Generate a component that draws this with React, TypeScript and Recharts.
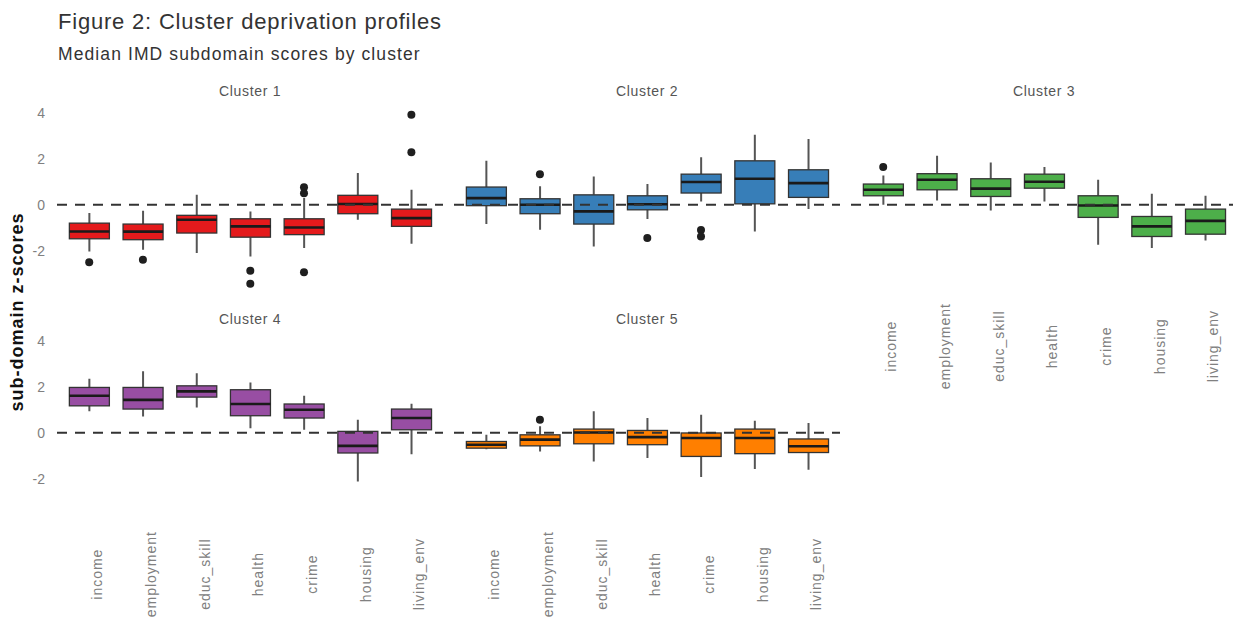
import React from "react";
import { ComposedChart, Bar, Scatter, XAxis, YAxis, ReferenceLine } from "recharts";

// ---------- data ----------
const CATEGORIES = ["income", "employment", "educ_skill", "health", "crime", "housing", "living_env"];
const CLUSTER_NAMES = ["Cluster 1", "Cluster 2", "Cluster 3", "Cluster 4", "Cluster 5"];
const CLUSTER_COLORS = ["#E41A1C", "#377EB8", "#4DAF4A", "#984EA3", "#FF7F00"];
const Y_TICKS = [-2, 0, 2, 4];
const Y_DOMAIN: [number, number] = [-3.8, 4.25];

// Cluster 1
const c1Low = [-2.03, -1.96, -2.1, -2.25, -1.88, -0.65, -1.7];
const c1Q1 = [-1.48, -1.52, -1.23, -1.41, -1.3, -0.39, -0.94];
const c1Median = [-1.16, -1.17, -0.65, -0.94, -0.99, 0.03, -0.58];
const c1Q3 = [-0.8, -0.84, -0.46, -0.61, -0.61, 0.41, -0.19];
const c1High = [-0.36, -0.26, 0.43, -0.29, 0.29, 1.38, 0.65];
const c1Outliers = [[-2.5], [-2.39], [], [-2.87, -3.43], [0.76, 0.5, -2.94], [], [3.91, 2.28]];

// Cluster 2
const c2Low = [-0.84, -1.09, -1.81, -0.62, 0.14, -1.16, -0.19];
const c2Q1 = [-0.04, -0.39, -0.84, -0.22, 0.51, 0.04, 0.32];
const c2Median = [0.29, 0.0, -0.29, 0.02, 0.99, 1.13, 0.94];
const c2Q3 = [0.77, 0.26, 0.43, 0.39, 1.33, 1.91, 1.52];
const c2High = [1.91, 0.8, 1.23, 0.9, 2.06, 3.04, 2.86];
const c2Outliers = [[], [1.33], [], [-1.45], [-1.1, -1.38], [], []];

// Cluster 3
const c3Low = [0.0, 0.19, -0.25, 0.14, -1.74, -1.88, -1.55];
const c3Q1 = [0.39, 0.65, 0.36, 0.72, -0.55, -1.38, -1.28];
const c3Median = [0.65, 1.09, 0.7, 1.0, -0.03, -0.94, -0.7];
const c3Q3 = [0.9, 1.35, 1.13, 1.33, 0.39, -0.51, -0.19];
const c3High = [1.27, 2.13, 1.84, 1.64, 1.09, 0.48, 0.39];
const c3Outliers = [[1.64], [], [], [], [], [], []];

// Cluster 4
const c4Low = [0.93, 0.71, 1.1, 0.2, 0.13, -2.12, -0.93];
const c4Q1 = [1.17, 1.03, 1.55, 0.74, 0.64, -0.88, 0.13];
const c4Median = [1.61, 1.43, 1.8, 1.25, 1.0, -0.57, 0.64];
const c4Q3 = [1.97, 1.97, 2.04, 1.87, 1.25, 0.06, 1.03];
const c4High = [2.35, 2.67, 2.59, 2.19, 1.61, 0.57, 1.26];
const c4Outliers = [[], [], [], [], [], [], []];

// Cluster 5
const c5Low = [-0.72, -0.81, -1.25, -1.1, -1.92, -1.58, -1.61];
const c5Q1 = [-0.67, -0.57, -0.48, -0.52, -1.03, -0.91, -0.86];
const c5Median = [-0.52, -0.3, 0.01, -0.19, -0.23, -0.23, -0.59];
const c5Q3 = [-0.38, -0.09, 0.16, 0.1, -0.01, 0.16, -0.27];
const c5High = [-0.09, 0.28, 0.93, 0.64, 0.78, 0.52, 0.42];
const c5Outliers = [[], [0.57], [], [], [], [], []];

type Row = {
  cat: string;
  whisker: [number, number];
  q1: number;
  median: number;
  q3: number;
  o0: number | null;
  o1: number | null;
  o2: number | null;
};

function buildRows(low: number[], q1: number[], med: number[], q3: number[], high: number[], out: number[][]): Row[] {
  return CATEGORIES.map((cat, i) => ({
    cat,
    whisker: [low[i], high[i]],
    q1: q1[i],
    median: med[i],
    q3: q3[i],
    o0: out[i][0] ?? null,
    o1: out[i][1] ?? null,
    o2: out[i][2] ?? null,
  }));
}

const CLUSTER_ROWS: Row[][] = [
  buildRows(c1Low, c1Q1, c1Median, c1Q3, c1High, c1Outliers),
  buildRows(c2Low, c2Q1, c2Median, c2Q3, c2High, c2Outliers),
  buildRows(c3Low, c3Q1, c3Median, c3Q3, c3High, c3Outliers),
  buildRows(c4Low, c4Q1, c4Median, c4Q3, c4High, c4Outliers),
  buildRows(c5Low, c5Q1, c5Median, c5Q3, c5High, c5Outliers),
];

// ---------- layout ----------
const FONT = "'Liberation Sans', Arial, Helvetica, sans-serif";
const PPU = 23;
const PLOT_W = 386.6;
const PLOT_H = (Y_DOMAIN[1] - Y_DOMAIN[0]) * PPU;
const Y_AXIS_W = 50;
const X_AXIS_H = 100;
const M_TOP = 20;
const X_PAD = 5.37;
const COL_LEFT = [56.8, 453.8, 850.8];
const ROW_TOP = [107.25, 335.25];

const PANELS = [
  { cluster: 0, col: 0, row: 0, showY: true, showX: false },
  { cluster: 1, col: 1, row: 0, showY: false, showX: false },
  { cluster: 2, col: 2, row: 0, showY: false, showX: true },
  { cluster: 3, col: 0, row: 1, showY: true, showX: true },
  { cluster: 4, col: 1, row: 1, showY: false, showX: true },
];

function makeBoxShape(color: string) {
  return (props: any) => {
    const { x, y, width, height, payload } = props;
    if (![x, y, width, height].every((v) => Number.isFinite(v)) || !payload) return <g />;
    const [lo, hi] = payload.whisker as [number, number];
    const top = Math.min(y, y + height);
    const bot = Math.max(y, y + height);
    const ppu = (bot - top) / (hi - lo);
    const toY = (v: number) => top + (hi - v) * ppu;
    const cx = x + width / 2;
    const yq3 = toY(payload.q3);
    const yq1 = toY(payload.q1);
    const ym = toY(payload.median);
    return (
      <g>
        <line x1={cx} x2={cx} y1={top} y2={yq3} stroke="#555" strokeWidth={2} />
        <line x1={cx} x2={cx} y1={yq1} y2={bot} stroke="#555" strokeWidth={2} />
        <rect x={x} y={yq3} width={width} height={Math.max(yq1 - yq3, 0.5)} fill={color} stroke="#333" strokeWidth={1.3} />
        <line x1={x} x2={x + width} y1={ym} y2={ym} stroke="#1a1a1a" strokeWidth={2.6} />
      </g>
    );
  };
}

const OutlierDot = (props: any) => {
  const { cx, cy } = props;
  if (!Number.isFinite(cx) || !Number.isFinite(cy)) return <g />;
  return <circle cx={cx} cy={cy} r={4} fill="#1f1f1f" />;
};

const XTick = (props: any) => {
  const { x, y, payload } = props;
  return (
    <text
      transform={`translate(${x + 8},${y + 54}) rotate(-90)`}
      textAnchor="middle"
      dominantBaseline="central"
      fontSize={14}
      letterSpacing={1}
      fill="#808080"
      fontFamily={FONT}
    >
      {payload.value}
    </text>
  );
};

function Panel({ cluster, col, row, showY, showX }: (typeof PANELS)[number]) {
  const data = CLUSTER_ROWS[cluster];
  const left = COL_LEFT[col] - Y_AXIS_W;
  const top = ROW_TOP[row] - M_TOP;
  return (
    <div style={{ position: "absolute", left, top }}>
      <ComposedChart
        width={Y_AXIS_W + PLOT_W}
        height={M_TOP + PLOT_H + X_AXIS_H}
        data={data}
        margin={{ top: M_TOP, right: 0, bottom: 0, left: 0 }}
      >
        <XAxis
          dataKey="cat"
          type="category"
          height={X_AXIS_H}
          padding={{ left: X_PAD, right: X_PAD }}
          axisLine={false}
          tickLine={false}
          tickSize={0}
          tickMargin={0}
          interval={0}
          tick={showX ? <XTick /> : false}
        />
        <YAxis
          type="number"
          domain={Y_DOMAIN}
          ticks={Y_TICKS}
          allowDataOverflow
          scale="linear"
          width={Y_AXIS_W}
          axisLine={false}
          tickLine={false}
          tickSize={0}
          tickMargin={12}
          interval={0}
          tick={showY ? { fontSize: 14, fill: "#808080", fontFamily: FONT } : false}
        />
        <Bar dataKey="whisker" barSize={40} isAnimationActive={false} shape={makeBoxShape(CLUSTER_COLORS[cluster])} />
        <Scatter dataKey="o0" isAnimationActive={false} shape={<OutlierDot />} />
        <Scatter dataKey="o1" isAnimationActive={false} shape={<OutlierDot />} />
        <Scatter dataKey="o2" isAnimationActive={false} shape={<OutlierDot />} />
        <ReferenceLine y={0} stroke="#333" strokeWidth={2} strokeDasharray="10 8" />
      </ComposedChart>
    </div>
  );
}

export default function App() {
  return (
    <div
      style={{
        position: "absolute",
        left: 0,
        top: 0,
        width: 1233,
        height: 619,
        overflow: "hidden",
        background: "#fff",
        fontFamily: FONT,
      }}
    >
      {PANELS.map((p) => (
        <Panel key={p.cluster} {...p} />
      ))}
      <svg
        width={1233}
        height={619}
        style={{ position: "absolute", left: 0, top: 0, pointerEvents: "none" }}
        fontFamily={FONT}
      >
        <text x={58} y={29} fontSize={22} letterSpacing={0.8} fill="#333">
          Figure 2: Cluster deprivation profiles
        </text>
        <text x={58} y={60} fontSize={17.5} letterSpacing={1.1} fill="#333">
          Median IMD subdomain scores by cluster
        </text>
        {PANELS.map((p) => (
          <text
            key={p.cluster}
            x={COL_LEFT[p.col] + PLOT_W / 2}
            y={p.row === 0 ? 96 : 324}
            textAnchor="middle"
            fontSize={14}
            letterSpacing={0.7}
            fill="#555"
          >
            {CLUSTER_NAMES[p.cluster]}
          </text>
        ))}
        <text
          transform="translate(23,312) rotate(-90)"
          textAnchor="middle"
          fontSize={18}
          fontWeight="bold"
          letterSpacing={1}
          fill="#111"
        >
          sub-domain z-scores
        </text>
      </svg>
    </div>
  );
}
